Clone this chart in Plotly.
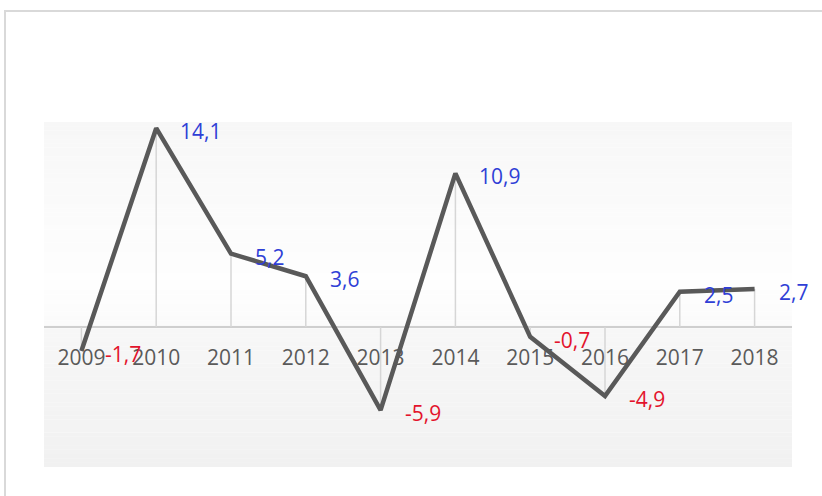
import plotly.graph_objects as go

# Annual change, %
years = ["2009", "2010", "2011", "2012", "2013", "2014", "2015", "2016", "2017", "2018"]
values = [-1.7, 14.1, 5.2, 3.6, -5.9, 10.9, -0.7, -4.9, 2.5, 2.7]
value_labels = ["-1,7", "14,1", "5,2", "3,6", "-5,9", "10,9", "-0,7", "-4,9", "2,5", "2,7"]

W, H = 822, 496
M_L, M_R, M_T, M_B = 44, 30, 122, 29
Y_MIN, Y_MAX = -9.93, 14.54

plot_h = H - M_T - M_B
plot_w = W - M_L - M_R
px_per_unit = plot_h / (Y_MAX - Y_MIN)

FONT = "Open Sans"
LINE_GRAY = "#595959"
BLUE = "#2f3fd6"
RED = "#e3132c"

fig = go.Figure()

# vertical drop lines from each point down to zero
drop_x, drop_y = [], []
for yr, v in zip(years, values):
    drop_x += [yr, yr, None]
    drop_y += [0, v, None]
fig.add_trace(go.Scatter(x=drop_x, y=drop_y, mode="lines",
                         line=dict(color="#d6d6d6", width=1.5),
                         hoverinfo="skip", showlegend=False))

# year labels sitting just under the zero line
label_offset = -33 / px_per_unit
fig.add_trace(go.Scatter(x=years, y=[label_offset] * len(years), mode="text",
                         text=years, textposition="middle center",
                         textfont=dict(family=FONT, size=21, color="#5a5a5a"),
                         hoverinfo="skip", showlegend=False))

# main series
fig.add_trace(go.Scatter(x=years, y=values, mode="lines",
                         line=dict(color=LINE_GRAY, width=4.5),
                         showlegend=False))

# value labels to the right of each point (category index positions)
for i, (v, t) in enumerate(zip(values, value_labels)):
    fig.add_annotation(x=i, y=v, xref="x", yref="y", text=t, showarrow=False,
                       xanchor="left", yanchor="middle",
                       xshift=22, yshift=-3,
                       font=dict(family=FONT, size=21,
                                 color=BLUE if v >= 0 else RED))

# soft vertical background gradient of the plot area
stops = [
    (Y_MIN, (241, 241, 241)),
    (-0.3, (247, 247, 247)),
    (0.3, (251, 251, 251)),
    (3.0, (254, 254, 254)),
    (Y_MAX, (247, 247, 247)),
]


def shade(y):
    for (ya, ca), (yb, cb) in zip(stops[:-1], stops[1:]):
        if ya <= y <= yb:
            f = (y - ya) / (yb - ya)
            c = [round(a + (b - a) * f) for a, b in zip(ca, cb)]
            return "rgb(%d,%d,%d)" % tuple(c)
    return "rgb(%d,%d,%d)" % stops[-1][1]


n_bands = 80
step = (Y_MAX - Y_MIN) / n_bands
shapes = []
for i in range(n_bands):
    y0 = Y_MIN + i * step
    shapes.append(dict(type="rect", xref="x domain", yref="y",
                       x0=0, x1=1, y0=y0, y1=y0 + step * 1.02,
                       fillcolor=shade(y0 + step / 2), line=dict(width=0),
                       layer="below"))

# outer frame
shapes.append(dict(type="rect", xref="paper", yref="paper",
                   x0=(5 - M_L) / plot_w, x1=1.2,
                   y0=-0.3, y1=(H - M_B - 11) / plot_h,
                   line=dict(color="#d9d9d9", width=2),
                   fillcolor="rgba(0,0,0,0)", layer="below"))

fig.update_layout(
    width=W, height=H,
    margin=dict(l=M_L, r=M_R, t=M_T, b=M_B),
    paper_bgcolor="white",
    plot_bgcolor="white",
    shapes=shapes,
    showlegend=False,
    xaxis=dict(type="category", range=[-0.5, len(years) - 0.5],
               showgrid=False, showticklabels=False, zeroline=False,
               showline=False, ticks=""),
    yaxis=dict(range=[Y_MIN, Y_MAX], showgrid=False, showticklabels=False,
               zeroline=True, zerolinecolor="#cfcfcf", zerolinewidth=2,
               showline=False, ticks=""),
)

fig.write_html("out.html")
